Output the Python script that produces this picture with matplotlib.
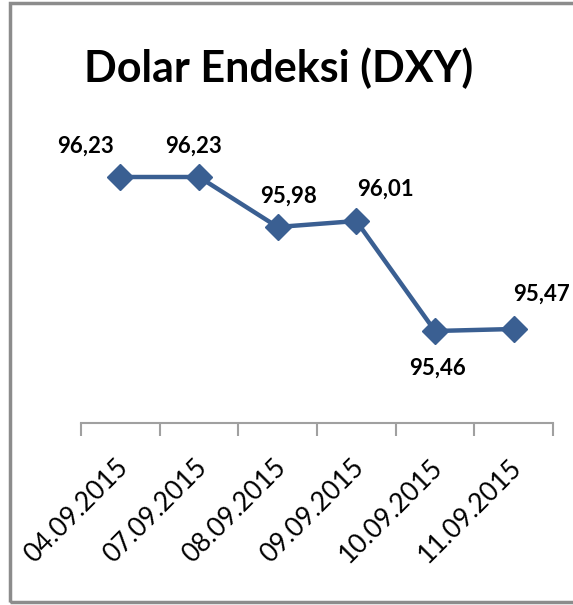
import matplotlib
matplotlib.use("Agg")
import matplotlib.pyplot as plt
from matplotlib.patches import Rectangle

# data
dates = ["04.09.2015", "07.09.2015", "08.09.2015", "09.09.2015", "10.09.2015", "11.09.2015"]
values = [96.23, 96.23, 95.98, 96.01, 95.46, 95.47]
value_labels = ["96,23", "96,23", "95,98", "96,01", "95,46", "95,47"]

# label offsets in points (x, y) relative to each marker
label_offsets = [(-25, 22), (-4, 22), (8, 22), (21, 23), (2, -27), (20, 25)]

LINE = "#3a5f92"
FONT = "Lato"

fig = plt.figure(figsize=(5.73, 6.05), dpi=100)
ax = fig.add_axes([81 / 573, 1 - 423 / 605, (553 - 81) / 573, (423 - 123) / 605])

x = list(range(len(values)))
ax.plot(x, values, color=LINE, linewidth=3.2, marker="D", markersize=13,
        markerfacecolor=LINE, markeredgecolor=LINE, zorder=3, clip_on=False)

for xi, v, lab, (dx, dy) in zip(x, values, value_labels, label_offsets):
    ax.annotate(lab, (xi, v), xytext=(dx, dy), textcoords="offset points",
                ha="center", va="center", fontsize=16, fontweight="bold",
                family=FONT, color="black")

ax.set_xlim(-0.5, len(values) - 0.5)
ax.set_ylim(95.0, 96.5)
ax.set_yticks([])
for s in ("left", "right", "top"):
    ax.spines[s].set_visible(False)
ax.spines["bottom"].set_color("#a0a0a0")
ax.spines["bottom"].set_linewidth(1.5)

ax.set_xticks([i - 0.5 for i in range(len(values) + 1)], minor=False)
ax.set_xticklabels([])
ax.tick_params(axis="x", which="major", direction="out", length=9, width=1.5, color="#a0a0a0")
ax.set_xticks([i - 0.06 for i in x], minor=True)
ax.set_xticklabels(dates, minor=True, rotation=45, ha="right", va="top",
                   rotation_mode="anchor", fontsize=19, family=FONT)
ax.tick_params(axis="x", which="minor", length=0, pad=23)

fig.text(279 / 573, 1 - 68 / 605, "Dolar Endeksi (DXY)", ha="center", va="center",
         fontsize=31, fontweight="bold", family=FONT)

fig.patches.append(Rectangle((10 / 573, 3 / 605), 580 / 573, 599 / 605,
                             transform=fig.transFigure, fill=False,
                             edgecolor="#8c8c8c", linewidth=2.5))

fig.savefig("out.png", dpi=100, facecolor="white")
